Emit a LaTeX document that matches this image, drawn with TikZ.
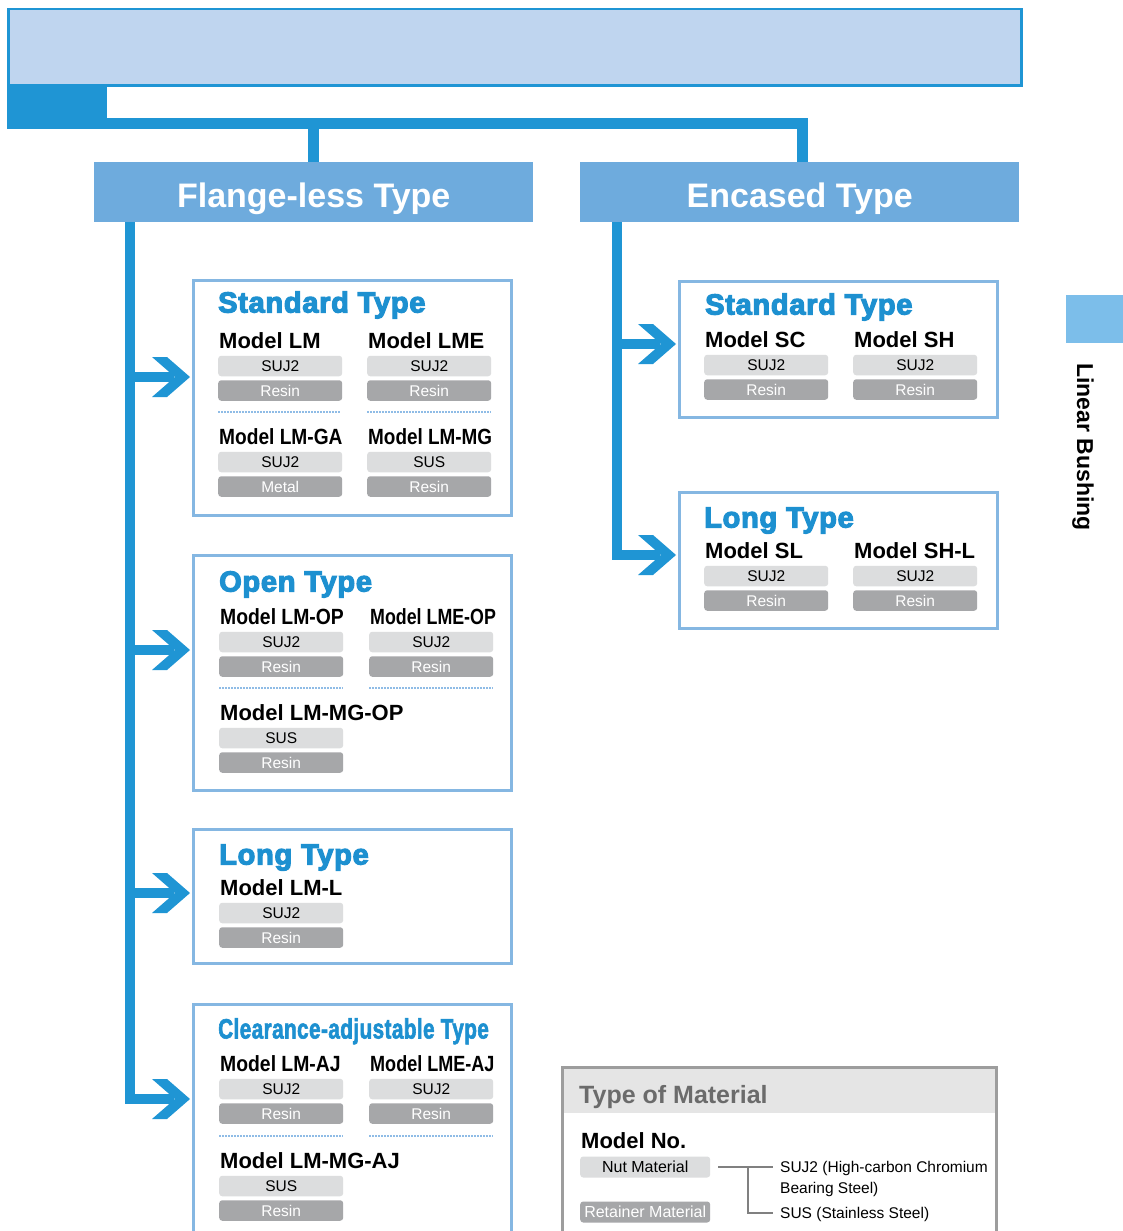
\documentclass[tikz,border=0pt]{standalone}
\usepackage{fontspec}
\usepackage{graphicx}
\setmainfont{Liberation Sans}
\newfontfamily\heavyfont[FakeBold=4,FakeStretch=1.0,LetterSpace=2.5]{Liberation Sans Bold}
\newfontfamily\narrowfont[FakeBold=2,FakeStretch=0.74,LetterSpace=1.5]{Liberation Sans Bold}
\usetikzlibrary{calc,positioning}
\definecolor{lbblue}{HTML}{1F95D4}
\definecolor{headblue}{HTML}{6EABDD}
\definecolor{bannerfill}{HTML}{BFD5EF}
\definecolor{frameblue}{HTML}{85B7E2}
\definecolor{titleblue}{HTML}{1D90D0}
\definecolor{dotblue}{HTML}{8FBCE6}
\definecolor{pilllight}{HTML}{DCDDDE}
\definecolor{pilldark}{HTML}{A6A7A9}
\definecolor{leggray}{HTML}{9D9D9D}
\definecolor{leghead}{HTML}{E5E5E5}
\definecolor{legtext}{HTML}{6B6B6B}
\definecolor{tabblue}{HTML}{7CBEEA}
\newcommand\cond[2][0.87]{\scalebox{#1}[1]{#2}}
\tikzset{x=1pt,y=-1pt,
         trunk/.style={draw=lbblue,line width=10.5pt,line join=miter},
         frame/.style={draw=frameblue,line width=2.5pt,anchor=north west,inner sep=0},
         head/.style={fill=headblue,text=white,font=\bfseries\fontsize{34}{38}\selectfont,
                      minimum width=439pt,minimum height=60pt,anchor=north west,inner sep=0,
                      text height=31pt,text depth=0pt},
         ttl/.style={font=\heavyfont\fontsize{29}{33}\selectfont,text=titleblue,anchor=west,
                     inner sep=0,text height=21pt,text depth=0pt},
         nttl/.style={ttl,font=\narrowfont\fontsize{28}{32}\selectfont},
         mdl/.style={font=\bfseries\fontsize{22}{26}\selectfont,anchor=west,inner sep=0,
                     text height=16pt,text depth=0pt},
         nut/.style={fill=pilllight,rounded corners=3pt,minimum width=124pt,minimum height=20.5pt,
                     inner sep=0,font=\fontsize{15.5}{18}\selectfont,text height=11pt,
                     text depth=0pt,anchor=west},
         ret/.style={nut,fill=pilldark,text=white},
         sep/.style={draw=dotblue,line width=2pt,dash pattern=on 1.5pt off 1.5pt},
         note/.style={font=\fontsize{15.5}{18}\selectfont,anchor=west,inner sep=0,
                      text height=11pt,text depth=0pt},
         legline/.style={draw=gray,line width=1.2pt},
         chev/.pic={\fill[lbblue] (-38,-20) -- (-23,-20) -- (0,0) -- (-23,20) -- (-38,20) -- (-15,0) -- cycle;}}
% model column: name, x, y, model text, nut, retainer
\newcommand\mcol[6]{%
  \node[mdl] (#1) at (#2+1,#3) {#4};
  \node[nut] (#1n) at (#2,#3+26) {#5};
  \node[ret] (#1r) at (#2,#3+50.5) {#6};}

\begin{document}
\begin{tikzpicture}
\clip (0,0) rectangle (1123,1231);
\fill[white] (0,0) rectangle (1123,1231);

\node[fill=lbblue,minimum width=100pt,minimum height=44pt,anchor=north west,inner sep=0] (tab) at (7,84) {};
\node[fill=bannerfill,draw=lbblue,line width=2.5pt,minimum width=1013pt,minimum height=76pt,
      anchor=north west,inner sep=0] (banner) at (7,8) {};

\node[head] (flange) at (94,162) {Flange-less Type};
\node[head] (encased) at (580,162) {Encased Type};
\draw[trunk] ([yshift=5pt]tab.south west) -| (flange.north);
\draw[trunk] ([yshift=5pt]tab.south east) -| ([xshift=3pt]encased.north);

% flange-less boxes
\node[frame,minimum width=318pt,minimum height=235pt] (fstd) at (192,279) {};
\node[frame,minimum width=318pt,minimum height=235pt] (fopen) at (192,554) {};
\node[frame,minimum width=318pt,minimum height=134pt] (flong) at (192,828) {};
\node[frame,minimum width=318pt,minimum height=260pt] (fclear) at (192,1003) {};
% encased boxes
\node[frame,minimum width=318pt,minimum height=136pt] (estd) at (678,280) {};
\node[frame,minimum width=318pt,minimum height=136pt] (elong) at (678,491) {};

\coordinate (fa1) at (190,377);
\coordinate (fa2) at (190,650);
\coordinate (fa3) at (190,893);
\coordinate (fa4) at (190,1099);
\coordinate (ea1) at (676,344);
\coordinate (ea2) at (676,555);
\coordinate (ftop) at ([xshift=36pt]flange.south west);
\coordinate (etop) at ([xshift=37pt]encased.south west);

\draw[trunk] (ftop) |- ([xshift=-16pt]fa4);
\foreach \a in {fa1,fa2,fa3}
  \draw[trunk] (ftop |- \a) -- ([xshift=-16pt]\a);
\draw[trunk] (etop) |- ([xshift=-16pt]ea2);
\draw[trunk] (etop |- ea1) -- ([xshift=-16pt]ea1);
\foreach \a in {fa1,fa2,fa3,fa4,ea1,ea2}
  \pic at (\a) {chev};

\node[ttl] (fstdt) at (218,302) {Standard Type};
\mcol{lm}{218}{340}{Model LM}{SUJ2}{Resin}
\mcol{lme}{367}{340}{Model LME}{SUJ2}{Resin}
\draw[sep] (218,412) -- (341,412);
\draw[sep] (367,412) -- (491,412);
\mcol{lmga}{218}{436}{\cond{Model LM-GA}}{SUJ2}{Metal}
\mcol{lmmg}{367}{436}{\cond[0.86]{Model LM-MG}}{SUS}{Resin}

\node[ttl] (fopent) at (219,581) {Open Type};
\mcol{lmop}{219}{616}{\cond[0.88]{Model LM-OP}}{SUJ2}{Resin}
\mcol{lmeop}{369}{616}{\cond[0.81]{Model LME-OP}}{SUJ2}{Resin}
\draw[sep] (219,688) -- (343,688);
\draw[sep] (369,688) -- (493,688);
\mcol{lmmgop}{219}{712}{Model LM-MG-OP}{SUS}{Resin}

\node[ttl] (flongt) at (219,854) {Long Type};
\mcol{lml}{219}{887}{Model LM-L}{SUJ2}{Resin}

\node[nttl] (fcleart) at (218,1028) {Clearance-adjustable Type};
\mcol{lmaj}{219}{1063}{\cond[0.88]{Model LM-AJ}}{SUJ2}{Resin}
\mcol{lmeaj}{369}{1063}{\cond[0.82]{Model LME-AJ}}{SUJ2}{Resin}
\draw[sep] (219,1136) -- (343,1136);
\draw[sep] (369,1136) -- (493,1136);
\mcol{lmmgaj}{219}{1160}{Model LM-MG-AJ}{SUS}{Resin}

\node[ttl] (estdt) at (705,304) {Standard Type};
\mcol{sc}{704}{339}{Model SC}{SUJ2}{Resin}
\mcol{sh}{853}{339}{Model SH}{SUJ2}{Resin}

\node[ttl] (elongt) at (704,517) {Long Type};
\mcol{sl}{704}{550}{Model SL}{SUJ2}{Resin}
\mcol{shl}{853}{550}{Model SH-L}{SUJ2}{Resin}

% material legend
\fill[leghead] (561,1066) rectangle (996,1113);
\node[frame,draw=leggray,line width=3pt,minimum width=434pt,minimum height=200pt] (legend) at (561,1066) {};
\node[mdl,font=\bfseries\fontsize{25}{29}\selectfont,text=legtext,text height=18pt] (legt) at (579,1094) {Type of Material};
\node[mdl] (legm) at (581,1140) {Model No.};
\node[nut,minimum width=130pt,minimum height=21pt,font=\fontsize{16}{19}\selectfont] (legn) at (580,1167) {Nut Material};
\node[ret,minimum width=130pt,minimum height=21pt,font=\fontsize{16}{19}\selectfont] (legr) at (580,1212) {Retainer Material};
\node[note] (leg1) at (780,1167) {SUJ2 (High-carbon Chromium};
\node[note] (leg2) at (780,1188) {Bearing Steel)};
\node[note] (leg3) at (780,1213) {SUS (Stainless Steel)};
\coordinate (legj) at (748,1167);
\draw[legline] ([xshift=8pt]legn.east) -- ([xshift=-7pt]leg1.west);
\draw[legline] (legj) |- ([xshift=-7pt]leg3.west);

% side tab
\fill[tabblue] (1066,295) rectangle (1123,343);
\node[rotate=-90,font=\bfseries\fontsize{23}{27}\selectfont,inner sep=0] (side) at (1083,447) {Linear Bushing};
\end{tikzpicture}
\end{document}
